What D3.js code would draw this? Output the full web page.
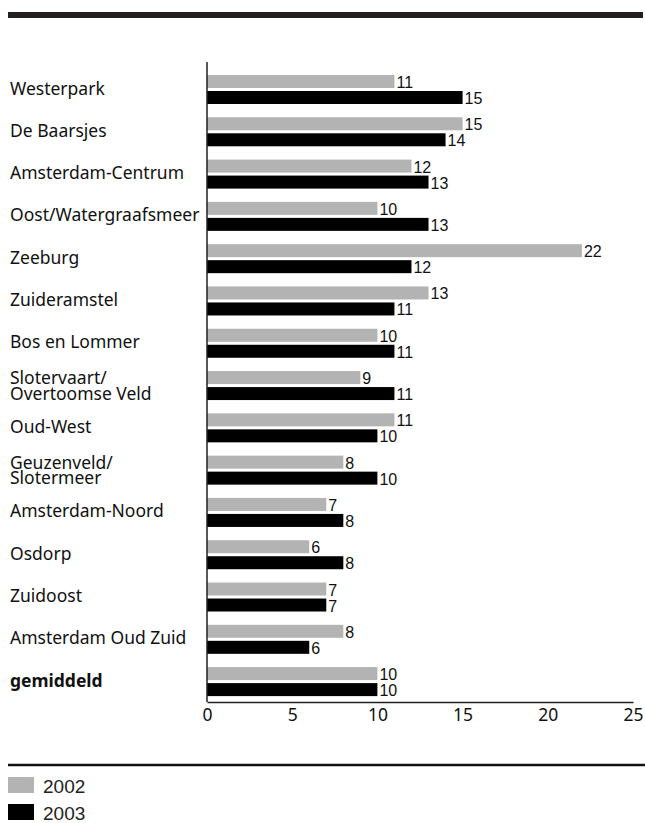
<!DOCTYPE html>
<html>
<head>
<meta charset="utf-8">
<script src="https://cdn.jsdelivr.net/npm/d3@7"></script>
<style>
  body { margin: 0; background: #fff; }
  svg { display: block; }
</style>
</head>
<body>
<div id="chart"></div>
<script>
// chart data
const categories = [
  'Westerpark', 'De Baarsjes', 'Amsterdam-Centrum', 'Oost/Watergraafsmeer',
  'Zeeburg', 'Zuideramstel', 'Bos en Lommer', 'Slotervaart/\nOvertoomse Veld',
  'Oud-West', 'Geuzenveld/\nSlotermeer', 'Amsterdam-Noord', 'Osdorp',
  'Zuidoost', 'Amsterdam Oud Zuid', 'gemiddeld'
];
const values2002 = [11, 15, 12, 10, 22, 13, 10, 9, 11, 8, 7, 6, 7, 8, 10];
const values2003 = [15, 14, 13, 13, 12, 11, 11, 11, 10, 10, 8, 8, 7, 6, 10];
const xTicks = [0, 5, 10, 15, 20, 25];
const seriesNames = ['2002', '2003'];

const width = 645, height = 823;
const grey = '#b3b3b3', black = '#000000';
const labelFont = "'Noto Sans', 'Open Sans', sans-serif";
const valueFont = "'Liberation Sans', Arial, sans-serif";

const svg = d3.select('#chart')
  .append('svg')
  .attr('width', width)
  .attr('height', height);

// thick rule at the top
svg.append('rect')
  .attr('x', 8).attr('y', 12)
  .attr('width', 635).attr('height', 6)
  .attr('fill', '#231f20');

const x = d3.scaleLinear().domain([0, 25]).range([207, 633]);
const y = d3.scaleBand().domain(d3.range(categories.length)).range([74, 708.4]);
const barH = 13, gap = 3;

// bars
const groups = svg.selectAll('g.group')
  .data(categories)
  .join('g')
  .attr('class', 'group')
  .attr('transform', (d, i) => `translate(0,${y(i)})`);

groups.append('rect')
  .attr('x', x(0))
  .attr('y', 1)
  .attr('width', (d, i) => x(values2002[i]) - x(0))
  .attr('height', barH)
  .attr('fill', grey);

groups.append('rect')
  .attr('x', x(0))
  .attr('y', 1 + barH + gap)
  .attr('width', (d, i) => x(values2003[i]) - x(0))
  .attr('height', barH)
  .attr('fill', black);

// value labels
groups.append('text')
  .attr('x', (d, i) => x(values2002[i]) + 2)
  .attr('y', 1 + barH)
  .style('font', `16px ${valueFont}`)
  .attr('fill', '#111')
  .text((d, i) => values2002[i]);

groups.append('text')
  .attr('x', (d, i) => x(values2003[i]) + 2)
  .attr('y', 1 + barH + gap + barH)
  .style('font', `16px ${valueFont}`)
  .attr('fill', '#111')
  .text((d, i) => values2003[i]);

// category labels
groups.append('text')
  .attr('x', 10)
  .attr('fill', '#111')
  .style('font', (d, i) => (i === categories.length - 1 ? 'bold ' : '') + `17.5px ${labelFont}`)
  .each(function (d) {
    const lines = d.split('\n');
    const t = d3.select(this);
    const startY = lines.length === 1 ? 20.5 : 14;
    lines.forEach((line, k) => {
      t.append('tspan')
        .attr('x', 10)
        .attr('y', startY + k * 15.5)
        .text(line);
    });
  });

// vertical axis line
svg.append('line')
  .attr('x1', x(0)).attr('x2', x(0))
  .attr('y1', 62).attr('y2', 702)
  .attr('stroke', '#231f20').attr('stroke-width', 1.5);

// x axis
const xAxis = svg.append('g')
  .attr('transform', 'translate(0,702)')
  .call(d3.axisBottom(x).tickValues(xTicks).tickSize(0).tickPadding(7));
xAxis.select('.domain').attr('stroke', '#231f20').attr('stroke-width', 1.5);
xAxis.selectAll('text')
  .style('font', `17.5px ${labelFont}`)
  .attr('fill', '#111');

// legend
svg.append('line')
  .attr('x1', 8).attr('x2', 645)
  .attr('y1', 765).attr('y2', 765)
  .attr('stroke', '#111').attr('stroke-width', 2.5);

const legend = svg.selectAll('g.legend')
  .data(seriesNames)
  .join('g')
  .attr('class', 'legend')
  .attr('transform', (d, i) => `translate(8,${777 + i * 27})`);

legend.append('rect')
  .attr('width', 26).attr('height', 16)
  .attr('fill', (d, i) => i === 0 ? grey : black);

legend.append('text')
  .attr('x', 35).attr('y', 16)
  .style('font', "19px 'Liberation Sans Narrow', 'Liberation Sans', 'Arial Narrow', sans-serif")
  .attr('fill', '#222')
  .text(d => d);
</script>
</body>
</html>
